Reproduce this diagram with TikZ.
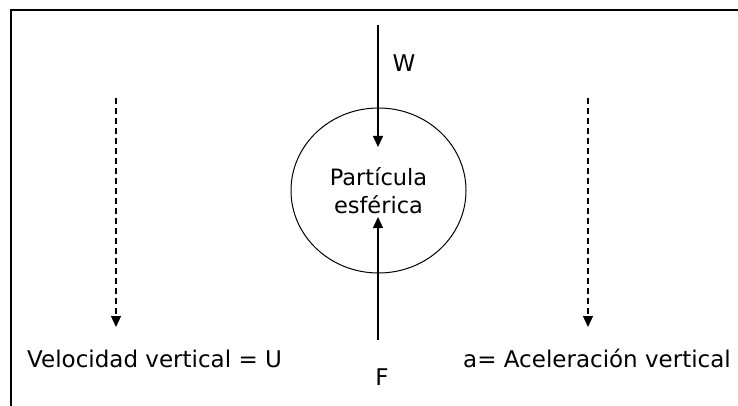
\documentclass[tikz,border=0pt]{standalone}
\usepackage{fontspec}
\setmainfont{DejaVu Sans}
\usetikzlibrary{shapes.geometric,arrows.meta}
\tikzset{
  lbl/.style={font=\fontsize{23}{28}\selectfont, inner sep=0pt},
  force/.style={line width=1.2pt, -{Triangle[length=11pt,width=10pt]}},
  motion/.style={line width=1.2pt, dash pattern=on 6pt off 4pt, -{Triangle[length=11pt,width=10pt]}},
  frame/.style={line width=1.6pt},
  particle/.style={ellipse, draw, line width=1pt, minimum width=175pt, minimum height=165pt, inner sep=0pt, align=center, font=\fontsize{22.5}{28}\selectfont}
}
\begin{document}
\begin{tikzpicture}[x=1pt,y=-1pt]
\useasboundingbox (0,0) rectangle (738,406);
% frame (top and left edges)
\coordinate (c1) at (11,406);
\coordinate (c2) at (11,10);
\coordinate (c3) at (738,10);
\draw[frame] (c1) -- (c2) -- (c3);
% particle
\node[particle] (p) at (378.5,190.5) {Partícula\\esférica};
% forces
\coordinate (wtop) at (378,25);
\coordinate (wtip) at (378,147);
\draw[force] (wtop) -- (wtip);
\coordinate (fbot) at (378,340);
\coordinate (ftip) at (378,217);
\draw[force] (fbot) -- (ftip);
\node[lbl, anchor=base] (W) at (404,72) {W};
\node[lbl, anchor=base] (F) at (382,385) {F};
% motion arrows
\coordinate (u1) at (116,98);
\coordinate (u2) at (116,327);
\draw[motion] (u1) -- (u2);
\coordinate (a1) at (588,98);
\coordinate (a2) at (588,327);
\draw[motion] (a1) -- (a2);
\node[lbl, anchor=base west] (U) at (27,367) {Velocidad vertical = U};
\node[lbl, anchor=base west] (A) at (463,367) {a= Aceleración vertical};
\end{tikzpicture}
\end{document}
